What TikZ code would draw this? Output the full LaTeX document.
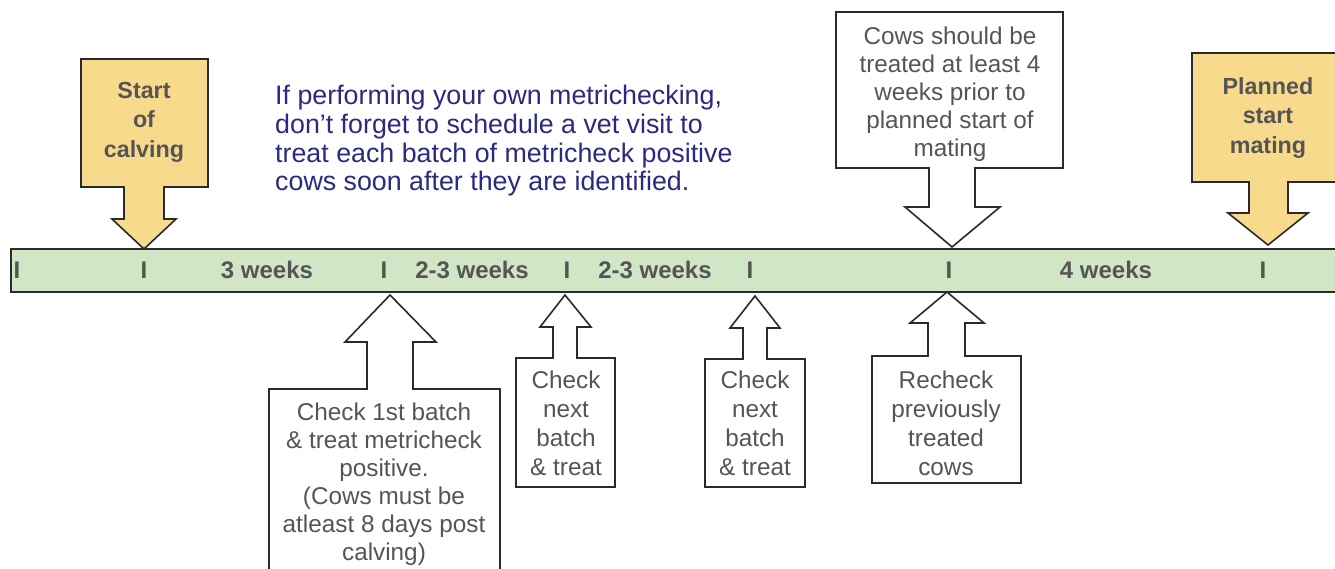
\documentclass[tikz,border=0pt]{standalone}
\usepackage{fontspec}
\setmainfont{Liberation Sans}
\definecolor{txtgray}{HTML}{555555}
\definecolor{navy}{HTML}{2B2A80}
\definecolor{barfill}{HTML}{D1E6C4}
\definecolor{yel}{HTML}{F8DA8D}
\definecolor{edge}{HTML}{2A2A2A}
\begin{document}
\begin{tikzpicture}[x=1pt,y=-1pt,
  callout/.style={draw=edge, line width=1.6pt, line join=miter},
  graytxt/.style={text=txtgray, font=\fontsize{24.3}{28}\selectfont, align=center, inner sep=0pt},
  boldtxt/.style={text=txtgray, font=\bfseries\fontsize{23.3}{29.5}\selectfont, align=center, inner sep=0pt},
  barlbl/.style={text=txtgray, font=\bfseries\fontsize{24}{28}\selectfont, inner sep=0pt},
  navytxt/.style={text=navy, font=\fontsize{26.8}{28.7}\selectfont, align=left, inner sep=0pt},
]
\clip (0,0) rectangle (1335,568);
\fill[white] (0,0) rectangle (1335,568);

% timeline bar
\draw[callout, line width=1.5pt, fill=barfill] (11,249) rectangle (1345,292);
\coordinate (bar) at (11,249);

% tick marks
\foreach \n/\x in {t0/17, t1/144, t2/384, t3/567, t4/750, t5/949, t6/1263}
  \node[barlbl] (\n) at (\x,270) {I};

% period labels
\node[barlbl] (w1) at (267,270) {3 weeks};
\node[barlbl] (w2) at (472,270) {2-3 weeks};
\node[barlbl] (w3) at (655,270) {2-3 weeks};
\node[barlbl] (w4) at (1106,270) {4 weeks};

% Start of calving (down, yellow)
\draw[callout, fill=yel] (81,59) -- (208,59) -- (208,187) -- (164,187) -- (164,219) -- (176,219)
  -- (144,249) -- (112,219) -- (124,219) -- (124,187) -- (81,187) -- cycle;
\node[boldtxt] (calving) at (144,122) {Start\\of\\calving};

% Planned start mating (down, yellow)
\draw[callout, fill=yel] (1192,53) -- (1345,53) -- (1345,182) -- (1288,182) -- (1288,213) -- (1308,213)
  -- (1268,245) -- (1228,213) -- (1249,213) -- (1249,182) -- (1192,182) -- cycle;
\node[boldtxt] (mating) at (1268,118) {Planned\\start\\mating};

% Cows should be treated (down, white)
\draw[callout, fill=white] (836,12) -- (1063,12) -- (1063,168) -- (975,168) -- (975,207) -- (1000,207)
  -- (952,247) -- (905,207) -- (929,207) -- (929,168) -- (836,168) -- cycle;
\node[graytxt] (prior) at (950,94) {Cows should be\\treated at least 4\\weeks prior to\\planned start of\\mating};

% Check 1st batch (up)
\draw[callout, fill=white] (269,585) -- (269,389) -- (367,389) -- (367,342) -- (345,342)
  -- (390,295) -- (436,342) -- (413,342) -- (413,389) -- (500,389) -- (500,585);
\node[graytxt] (first) at (384,484) {Check 1st batch\\\& treat metricheck\\positive.\\(Cows must be\\atleast 8 days post\\calving)};

% Check next batch 1 (up)
\draw[callout, fill=white] (516,487) -- (516,358) -- (553,358) -- (553,327) -- (540,327)
  -- (565,295) -- (591,327) -- (577,327) -- (577,358) -- (615,358) -- (615,487) -- cycle;
\node[graytxt, font=\fontsize{24.3}{29}\selectfont] (next1) at (566,423) {Check\\next\\batch\\\& treat};

% Check next batch 2 (up)
\draw[callout, fill=white] (705,487) -- (705,359) -- (743,359) -- (743,328) -- (730,328)
  -- (755,296) -- (780,328) -- (767,328) -- (767,359) -- (805,359) -- (805,487) -- cycle;
\node[graytxt, font=\fontsize{24.3}{29}\selectfont] (next2) at (755,423) {Check\\next\\batch\\\& treat};

% Recheck (up)
\draw[callout, fill=white] (872,483) -- (872,356) -- (928,356) -- (928,323) -- (910,323)
  -- (947,292) -- (984,323) -- (965,323) -- (965,356) -- (1021,356) -- (1021,483) -- cycle;
\node[graytxt, font=\fontsize{24.3}{29}\selectfont] (recheck) at (946,423) {Recheck\\previously\\treated\\cows};

% advice text
\node[navytxt, anchor=west] (advice) at (275,141) {If performing your own metrichecking,\\don’t forget to schedule a vet visit to\\treat each batch of metricheck positive\\cows soon after they are identified.};
\end{tikzpicture}
\end{document}
